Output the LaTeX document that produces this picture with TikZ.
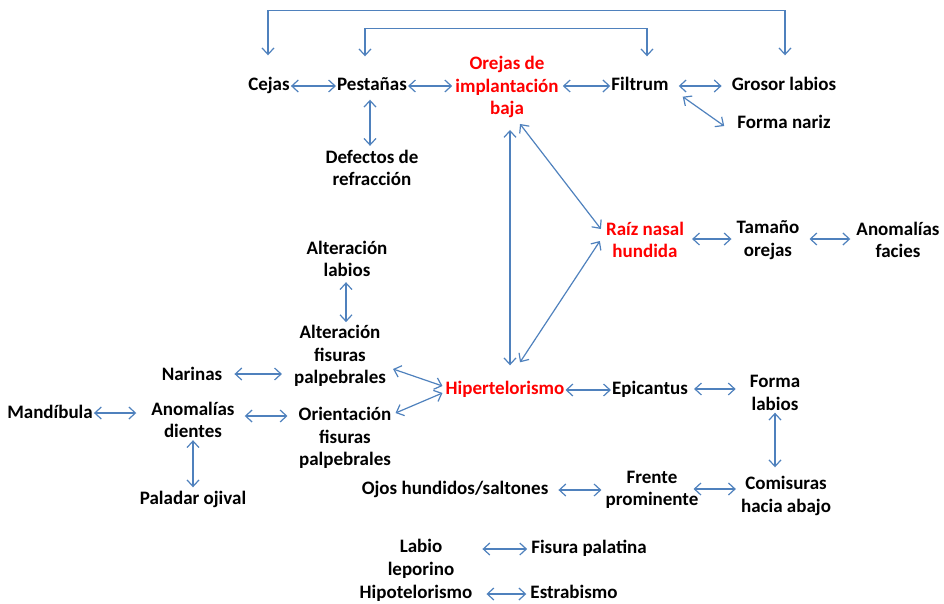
\documentclass[tikz,border=0pt]{standalone}
\usepackage{fontspec}
\setmainfont{Carlito}
\usetikzlibrary{arrows.meta,calc}
\definecolor{arrblue}{HTML}{4F81BD}
\definecolor{redtxt}{HTML}{FF0000}
\begin{document}
\begin{tikzpicture}[x=1pt,y=-1pt,
  lbl/.style={font=\fontsize{19}{22.5}\selectfont\bfseries, align=center, inner sep=1pt},
  lblone/.style={lbl, text height=13pt, text depth=4pt},
  hot/.style={lbl, text=redtxt},
  hotone/.style={lblone, text=redtxt},
  link/.style={draw=arrblue, line width=1.2pt, >={Straight Barb[length=6.5pt,width=12pt]}, <->},
  ]
\useasboundingbox (0,0) rectangle (944,603);
% nodes
\node[lblone] (cejas) at (269,86) {Cejas};
\node[lblone] (pest) at (372,86) {Pestañas};
\node[hot] (orejas) at (507,87) {Orejas de\\implantación\\baja};
\node[lblone] (filtrum) at (640,86) {Filtrum};
\node[lblone] (grosor) at (784,86) {Grosor labios};
\node[lblone] (nariz) at (784,124) {Forma nariz};
\node[lbl] (defectos) at (372,168) {Defectos de\\refracción};
\node[hot] (raiz) at (645,240) {Raíz nasal\\hundida};
\node[lbl] (tamano) at (768,240) {Tamaño\\orejas};
\node[lbl] (facies) at (898,240) {Anomalías\\facies};
\node[lbl] (altlab) at (347,259) {Alteración\\labios};
\node[lbl] (altfis) at (340,356) {Alteración\\fisuras\\palpebrales};
\node[lblone] (narinas) at (192,376) {Narinas};
\node[hotone] (hiper) at (505,390) {Hipertelorismo};
\node[lblone] (epic) at (650,390) {Epicantus};
\node[lbl] (formalab) at (775,393) {Forma\\labios};
\node[lblone] (mandib) at (50,414) {Mandíbula};
\node[lbl] (anomdi) at (193,420) {Anomalías\\dientes};
\node[lbl] (orient) at (345,438) {Orientación\\fisuras\\palpebrales};
\node[lblone] (paladar) at (193,500) {Paladar ojival};
\node[lblone] (ojos) at (455,490) {Ojos hundidos/saltones};
\node[lbl] (frente) at (652,490) {Frente\\prominente};
\node[lbl] (comis) at (786,496) {Comisuras\\hacia abajo};
\node[lbl] (labio) at (421,559) {Labio\\leporino};
\node[lblone] (fisura) at (589,549) {Fisura palatina};
\node[lblone] (hipot) at (416,594) {Hipotelorismo};
\node[lblone] (estrab) at (574,594) {Estrabismo};
% top brackets
\draw[link] ($(cejas.north)+(-1pt,21pt)$) -- ++(0,45pt) -| ($(grosor.north)+(1pt,21pt)$);
\draw[link] ($(pest.north)+(-7pt,20pt)$) -- ++(0,28pt) -| ($(filtrum.north)+(7pt,20pt)$);
% row 1
\draw[link] (cejas) -- (pest);
\draw[link] (pest.east) -- ($(pest.east -| orejas.west)+(-2pt,0)$);
\draw[link] ($(orejas.east |- filtrum.west)+(3pt,0)$) -- (filtrum.west);
\draw[link] ($(filtrum.east)+(9pt,0)$) -- ($(grosor.west)+(-9pt,0)$);
\draw[link] ($(filtrum.south east)+(13pt,-1pt)$) -- ($(nariz.west)+(-12pt,-2pt)$);
\draw[link] ($(pest.south)+(-2pt,-4pt)$) -- ($(pest.south |- defectos.north)+(-2pt,3pt)$);
% triangle
\draw[link] ($(orejas.south)+(3pt,-11pt)$) -- ($(orejas.south |- hiper.north)+(3pt,15pt)$);
\draw[link] ($(orejas.south)+(13pt,-5pt)$) -- ($(raiz.west)+(-4pt,11pt)$);
\draw[link] ($(raiz.west)+(-5pt,-1pt)$) -- ($(hiper.north)+(15pt,18pt)$);
\draw[link] ($(raiz.east)+(7pt,1pt)$) -- ($(tamano.west)+(-4pt,1pt)$);
\draw[link] ($(tamano.east)+(9pt,1pt)$) -- ($(facies.west)+(-5pt,1pt)$);
% left side
\draw[link] ($(altlab.south)+(-1pt,-4pt)$) -- ($(altlab.south |- altfis.north)+(-1pt,2pt)$);
\draw[link] ($(narinas.east)+(11pt,2pt)$) -- ($(narinas.east -| altfis.west)+(-11pt,2pt)$);
\draw[link] ($(altfis.east)+(6pt,-13pt)$) -- ($(hiper.west)+(-2pt,4pt)$);
\draw[link] ($(orient.east)+(3pt,25pt)$) -- ($(hiper.west)+(-2pt,-3pt)$);
\draw[link] ($(mandib.east)+(0,1pt)$) -- ($(mandib.east -| anomdi.west)+(-14pt,1pt)$);
\draw[link] ($(anomdi.east)+(9pt,4pt)$) -- ($(anomdi.east -| orient.west)+(-10pt,4pt)$);
\draw[link] ($(anomdi.south)+(0,-1pt)$) -- ($(paladar.north)+(0,3pt)$);
% right lower
\draw[link] (hiper) -- (epic);
\draw[link] ($(epic.east)+(5pt,1pt)$) -- ($(epic.east -| formalab.west)+(-13pt,1pt)$);
\draw[link] ($(formalab.south)+(0,-1pt)$) -- ($(formalab.south |- comis.north)+(0,8pt)$);
\draw[link] ($(ojos.east)+(9pt,0)$) -- ($(ojos.east -| frente.west)+(-3pt,0)$);
\draw[link] ($(frente.east)+(-6pt,1pt)$) -- ($(frente.east -| comis.west)+(-4pt,1pt)$);
% bottom
\draw[link] ($(labio.east |- fisura.west)+(27pt,0)$) -- ($(fisura.west)+(-3pt,0)$);
\draw[link] ($(hipot.east)+(13pt,0)$) -- ($(estrab.west)+(-3pt,0)$);
\end{tikzpicture}
\end{document}
